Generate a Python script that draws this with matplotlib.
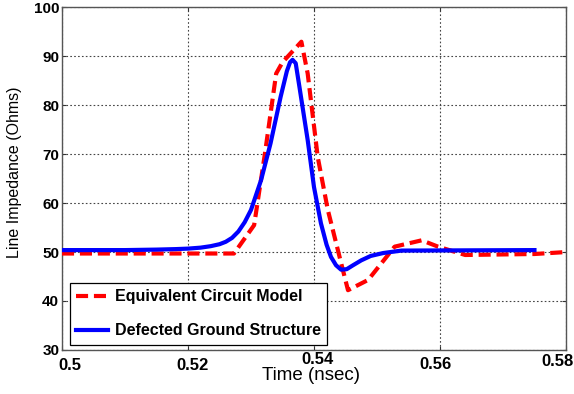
import matplotlib
matplotlib.use("Agg")
import matplotlib.pyplot as plt
from matplotlib.transforms import ScaledTranslation

plt.rcParams['font.family'] = ['Liberation Sans', 'DejaVu Sans']

# Equivalent circuit model (coarse polyline)
ecm_t = [0.5, 0.5273, 0.5305, 0.5322, 0.5340, 0.5350, 0.5380, 0.5390,
         0.5406, 0.5422, 0.5443, 0.5454, 0.5486, 0.5528, 0.5571, 0.5597,
         0.5640, 0.5750, 0.5800]
ecm_z = [49.7, 49.7, 55.5, 70.0, 86.5, 88.8, 93.0, 86.5,
         69.4, 58.6, 47.8, 42.2, 44.3, 51.1, 52.4, 51.1,
         49.4, 49.6, 50.0]

# Defected ground structure (smooth curve)
dgs_t = [0.5, 0.510, 0.515, 0.518, 0.520, 0.522, 0.5236, 0.5250, 0.5260,
         0.5270, 0.5280, 0.5290, 0.5300, 0.5316, 0.5331, 0.5347, 0.5357,
         0.5362, 0.5366, 0.5371, 0.5377, 0.5390, 0.5400, 0.5411, 0.5420,
         0.5427, 0.5435, 0.5443, 0.5452, 0.5462, 0.5475, 0.5490, 0.5510,
         0.5539, 0.5750]
dgs_z = [50.4, 50.4, 50.5, 50.6, 50.7, 50.9, 51.2, 51.6, 52.1,
         52.9, 54.2, 56.1, 58.6, 64.7, 72.2, 81.7, 87.0,
         88.8, 89.3, 88.6, 83.7, 72.9, 63.3, 55.9, 51.5,
         49.0, 47.3, 46.4, 46.5, 47.3, 48.3, 49.2, 49.8,
         50.3, 50.4]

xticks = [0.5, 0.52, 0.54, 0.56, 0.58]
xtick_labels = ['0.5', '0.52', '0.54', '0.56', '0.58']
# pixel offsets of the labels as they sit in the exported figure
xtick_dx = [8, 5, 4, -4, -8]
xtick_dy = [0, 0, 6, 1, 4]
yticks = [30, 40, 50, 60, 70, 80, 90, 100]

fig = plt.figure(figsize=(5.74, 3.94), dpi=100)
ax = fig.add_axes([0.108, 0.112, 0.878, 0.869])

ax.plot(ecm_t, ecm_z, color='#ff0000', lw=3, linestyle=(0, (2.9, 1.4)),
        label='Equivalent Circuit Model', zorder=3)
ax.plot(dgs_t, dgs_z, color='#0000ff', lw=3, solid_joinstyle='round',
        label='Defected Ground Structure', zorder=4)

ax.set_xlim(0.5, 0.58)
ax.set_ylim(30, 100)
ax.set_xticks(xticks)
ax.set_xticklabels(xtick_labels, fontsize=12, fontweight='bold')
ax.set_yticks(yticks)
ax.set_yticklabels([str(v) for v in yticks], fontsize=11, fontweight='bold')
ax.tick_params(direction='in', length=3, width=0.8, top=True, right=True,
               colors='#333333', labelcolor='black', pad=2)
ax.tick_params(axis='x', pad=6)
for lbl, dx, dy in zip(ax.get_xticklabels(), xtick_dx, xtick_dy):
    lbl.set_transform(lbl.get_transform() + ScaledTranslation(dx / 100, dy / 100, fig.dpi_scale_trans))

ax.grid(True, color='#444444', linestyle=(0, (1.5, 2.0)), linewidth=0.8)
for sp in ax.spines.values():
    sp.set_color('#555555')
    sp.set_linewidth(1.0)

ax.set_xlabel('Time (nsec)', fontsize=13.5)
ax.xaxis.set_label_coords(0.495, -0.05)
ax.set_ylabel('Line Impedance (Ohms)', fontsize=11.5)
ax.yaxis.set_label_coords(-0.08, 0.52)

leg = ax.legend(loc='lower left', bbox_to_anchor=(0.016, 0.0146),
                borderaxespad=0, prop={'size': 11.5, 'weight': 'bold'},
                handlelength=1.95, labelspacing=1.2, borderpad=0.4,
                handletextpad=0.45, fancybox=False, framealpha=1,
                edgecolor='black')
leg.get_frame().set_linewidth(0.9)

fig.savefig('out.png', dpi=100)
